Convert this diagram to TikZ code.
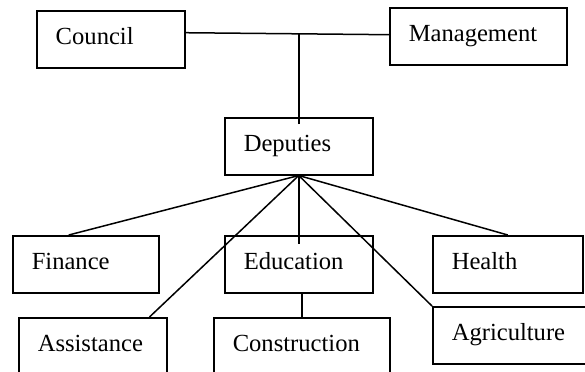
\documentclass[tikz,border=0pt]{standalone}
\usepackage{fontspec}
\setmainfont{Liberation Serif}
\begin{document}
\begin{tikzpicture}[x=0.5pt, y=-0.5pt, line width=0.75pt,
        unit/.style={draw, anchor=north west, align=left, inner xsep=9.5pt, inner ysep=0pt,
            text width=#1, minimum height=28.5pt, text height=8.3pt, text depth=2.7pt,
            font=\fontsize{12.3}{14}\selectfont}]
        \clip (0,0) rectangle (585,371);

        \node[unit=55pt] (council) at (36,10) {Council};
        \node[unit=69.5pt] (management) at (389,7) {Management};
        \node[unit=55pt] (deputies) at (224,117) {Deputies};

        \node[unit=54pt] (finance) at (12,235) {Finance};
        \node[unit=55pt] (education) at (224,235) {Education};
        \node[unit=56pt] (health) at (432,235) {Health};
        \node[unit=55pt] (assistance) at (18,317) {Assistance};
        \node[unit=69pt] (construction) at (213,317) {Construction};
        \node[unit=65pt] (agriculture) at (432,306) {Agriculture};

        \draw (council.5) -- (management.179) coordinate[pos=0.55] (joint);
        \draw ([yshift=-3.5pt]deputies.north) -- (deputies.north |- joint);

        \draw (deputies.south) -- ([xshift=-8.5pt]finance.north);
        \draw (deputies.south) -- ([xshift=-9pt]assistance.north east);
        \draw (deputies.south) -- ([yshift=-4.5pt]education.north);
        \draw (deputies.south) -- (agriculture.north west);
        \draw (deputies.south) -- (health.north);
        \draw (construction.north) -- (construction.north |- education.south);
    \end{tikzpicture}
\end{document}
